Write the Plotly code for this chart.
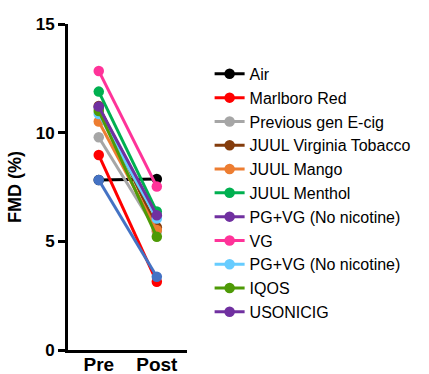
import plotly.graph_objects as go

timepoints = ["Pre", "Post"]
series_names = ["Air", "Marlboro Red", "Previous gen E-cig", "JUUL Virginia Tobacco",
                "JUUL Mango", "JUUL Menthol", "PG+VG (No nicotine)", "VG",
                "PG+VG (No nicotine)", "IQOS", "USONICIG"]
pre_values = [7.82, 8.97, 9.79, 11.23, 10.51, 11.89, 11.15, 12.84, 10.86, 11.0, 11.2]
post_values = [7.87, 3.14, 5.45, 5.65, 5.52, 6.37, 6.14, 7.52, 6.05, 5.21, 6.2]
colors = ["#000000", "#FF0000", "#A6A6A6", "#843C0C", "#ED7D31", "#00B050",
          "#7030A0", "#FF3399", "#66CCFF", "#4E9A06", "#7030A0"]
extra_pre = 7.82
extra_post = 3.37
extra_color = "#4472C4"

fig = go.Figure()
for name, a, b, c in zip(series_names, pre_values, post_values, colors):
    fig.add_trace(go.Scatter(x=timepoints, y=[a, b], name=name, mode="lines+markers",
                             line=dict(color=c, width=3), marker=dict(color=c, size=10.5)))
fig.add_trace(go.Scatter(x=timepoints, y=[extra_pre, extra_post], mode="lines+markers",
                         showlegend=False,
                         line=dict(color=extra_color, width=3), marker=dict(color=extra_color, size=10.5)))

fig.update_layout(
    width=429, height=374,
    margin=dict(l=68, r=242, t=24, b=24),
    plot_bgcolor="white", paper_bgcolor="white",
    font=dict(family="Liberation Sans", color="black"),
    showlegend=True,
    legend=dict(x=1.19, y=0.899, xanchor="left", yanchor="top",
                font=dict(size=16, family="Liberation Sans"), itemwidth=30,
                tracegroupgap=0, bgcolor="rgba(0,0,0,0)"),
    xaxis=dict(type="category", range=[-0.53, 1.52], showline=True, linecolor="black",
               linewidth=3, showgrid=False, ticks="", zeroline=False, automargin=False,
               ticklabelstandoff=-5,
               tickfont=dict(size=19, weight="bold")),
    yaxis=dict(range=[0, 15], tickvals=[0, 5, 10, 15], showline=True, linecolor="black",
               linewidth=3, showgrid=False, ticks="outside", ticklen=7, tickwidth=3,
               tickcolor="black", zeroline=False, automargin=False,
               tickfont=dict(size=17, weight="bold"),
               title=dict(text="FMD (%)", font=dict(size=18, weight="bold"), standoff=10)),
)
fig.write_html("out.html")
